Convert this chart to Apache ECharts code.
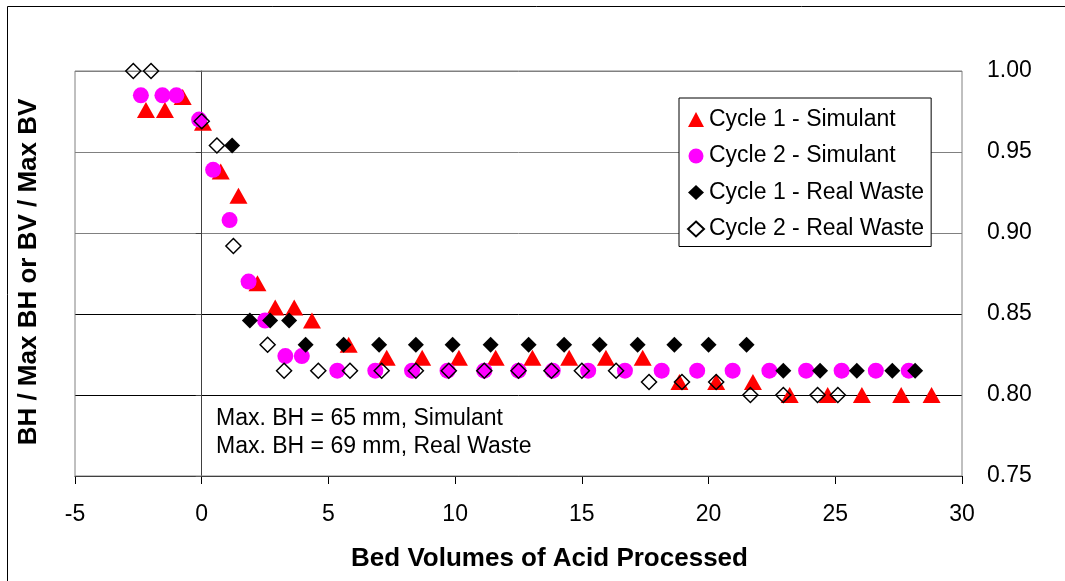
<!DOCTYPE html>
<html>
<head>
<meta charset="utf-8">
<script src="https://cdn.jsdelivr.net/npm/echarts@6/dist/echarts.min.js"></script>
<style>
  html, body { margin: 0; padding: 0; background: #fff; overflow: hidden; }
  #main { width: 1065px; height: 581px; }
</style>
</head>
<body>
<div id="main"></div>
<script>
// x = bed volumes, y = BH/Max BH or BV/Max BV
var cycle1Simulant = [
  [-2.2, 0.976], [-1.45, 0.976], [-0.75, 0.984], [0.05, 0.968], [0.75, 0.938], [1.45, 0.923],
  [2.2, 0.869], [2.9, 0.854], [3.65, 0.854], [4.35, 0.846], [5.8, 0.831], [7.3, 0.823],
  [8.7, 0.823], [10.15, 0.823], [11.6, 0.823], [13.05, 0.823], [14.5, 0.823], [15.95, 0.823],
  [17.4, 0.823], [18.85, 0.808], [20.3, 0.808], [21.75, 0.808], [23.2, 0.8], [24.7, 0.8],
  [26.05, 0.8], [27.6, 0.8], [28.8, 0.8]
];
var cycle2Simulant = [
  [-2.4, 0.985], [-1.55, 0.985], [-1.0, 0.985], [-0.1, 0.970], [0.45, 0.939], [1.1, 0.908],
  [1.85, 0.87], [2.5, 0.846], [3.3, 0.824], [3.95, 0.824], [5.35, 0.815], [6.85, 0.815],
  [8.3, 0.815], [9.7, 0.815], [11.15, 0.815], [12.5, 0.815], [13.85, 0.815], [15.25, 0.815],
  [16.7, 0.815], [18.15, 0.815], [19.55, 0.815], [20.95, 0.815], [22.4, 0.815], [23.85, 0.815],
  [25.25, 0.815], [26.6, 0.815], [27.9, 0.815]
];
var cycle1Real = [
  [1.2, 0.954], [1.9, 0.846], [2.7, 0.846], [3.45, 0.846], [4.1, 0.831], [5.6, 0.831],
  [7.0, 0.831], [8.45, 0.831], [9.9, 0.831], [11.4, 0.831], [12.9, 0.831], [14.3, 0.831],
  [15.7, 0.831], [17.2, 0.831], [18.65, 0.831], [20.0, 0.831], [21.5, 0.831], [22.95, 0.815],
  [24.4, 0.815], [25.85, 0.815], [27.25, 0.815], [28.15, 0.815]
];
var cycle2Real = [
  [-2.7, 1.0], [-2.0, 1.0], [0, 0.969], [0.6, 0.954], [1.25, 0.892], [2.6, 0.831],
  [3.25, 0.815], [4.6, 0.815], [5.85, 0.815], [7.1, 0.815], [8.45, 0.815], [9.75, 0.815],
  [11.15, 0.815], [12.5, 0.815], [13.8, 0.815], [15.0, 0.815], [16.35, 0.815], [17.65, 0.808],
  [18.95, 0.808], [20.3, 0.808], [21.65, 0.8], [22.95, 0.8], [24.3, 0.8], [25.1, 0.8]
];
var seriesNames = ['Cycle 1 - Simulant', 'Cycle 2 - Simulant', 'Cycle 1 - Real Waste', 'Cycle 2 - Real Waste'];
var noteLines = ['Max. BH = 65 mm, Simulant', 'Max. BH = 69 mm, Real Waste'];

var font = 'Liberation Sans, Arial, sans-serif';
var myChart = echarts.init(document.getElementById('main'), null, { renderer: 'canvas' });

var option = {
  animation: false,
  backgroundColor: '#fff',
  grid: { left: 75, right: 103, top: 71, bottom: 105, show: true, borderColor: '#808080', borderWidth: 1, z: 1 },
  xAxis: {
    type: 'value', min: -5, max: 30, interval: 5,
    axisLine: { onZero: false, lineStyle: { color: '#000', width: 1 } },
    axisTick: { show: true, length: 8, lineStyle: { color: '#000' } },
    axisLabel: { fontFamily: font, fontSize: 23, color: '#000', margin: 27 },
    splitLine: { show: false }
  },
  yAxis: [{
    type: 'value', min: 0.75, max: 1.0, interval: 0.05, position: 'right',
    axisLine: { show: false, onZero: false }, axisTick: { show: false },
    axisLabel: { fontFamily: font, fontSize: 23, color: '#000', margin: 25, padding: [4, 0, 0, 0],
      formatter: function (v) { return v.toFixed(2); } },
    splitLine: { show: true, lineStyle: { color: ['#000', '#000', '#000', '#808080', '#808080', '#808080'], width: 1 } }
  }, {
    // value axis crossing at x = 0
    type: 'value', min: 0.75, max: 1.0, interval: 0.05, position: 'left',
    axisLine: { show: true, onZero: true, lineStyle: { color: '#404040', width: 1 } },
    axisTick: { show: true, length: 6, lineStyle: { color: '#404040' } },
    axisLabel: { show: false },
    splitLine: { show: false }
  }],
  legend: {
    orient: 'vertical', left: 679, top: 98,
    backgroundColor: '#fff', borderColor: '#000', borderWidth: 1,
    padding: [10, 7, 6, 8], itemGap: 13.5, itemWidth: 16, itemHeight: 15,
    textStyle: { fontFamily: font, fontSize: 23, color: '#000' },
    data: [
      { name: seriesNames[0], icon: 'triangle' },
      { name: seriesNames[1], icon: 'circle' },
      { name: seriesNames[2], icon: 'diamond' },
      { name: seriesNames[3], icon: 'diamond' }
    ]
  },
  graphic: [
    { type: 'polyline', shape: { points: [[7.5, 1000], [7.5, 6.5], [1200, 6.5]] }, style: { fill: null, stroke: '#000', lineWidth: 1 }, z: -10 },
    { type: 'text', x: 29, y: 272, rotation: Math.PI / 2,
      style: { text: 'BH / Max BH or BV / Max BV', fontFamily: font, fontSize: 26, fontWeight: 'bold', fill: '#000', align: 'center', verticalAlign: 'middle' } },
    { type: 'text', x: 549.5, y: 559,
      style: { text: 'Bed Volumes of Acid Processed', fontFamily: font, fontSize: 26, fontWeight: 'bold', fill: '#000', align: 'center', verticalAlign: 'middle' } },
    { type: 'text', x: 216, y: 405,
      style: { text: noteLines.join('\n'), fontFamily: font, fontSize: 23, lineHeight: 28, fill: '#000' } }
  ],
  series: [
    { name: seriesNames[0], type: 'scatter', data: cycle1Simulant, symbol: 'triangle', symbolSize: [18, 16],
      itemStyle: { color: '#ff0000', opacity: 1 }, z: 3 },
    { name: seriesNames[1], type: 'scatter', data: cycle2Simulant, symbol: 'circle', symbolSize: 16,
      itemStyle: { color: '#ff00ff', opacity: 1 }, z: 4 },
    { name: seriesNames[2], type: 'scatter', data: cycle1Real, symbol: 'diamond', symbolSize: 16,
      itemStyle: { color: '#000', opacity: 1 }, z: 5 },
    { name: seriesNames[3], type: 'scatter', data: cycle2Real, symbol: 'diamond', symbolSize: 15,
      itemStyle: { color: 'rgba(255,255,255,0)', borderColor: '#000', borderWidth: 1.5, opacity: 1 }, z: 6 }
  ]
};
myChart.setOption(option);
</script>
</body>
</html>
